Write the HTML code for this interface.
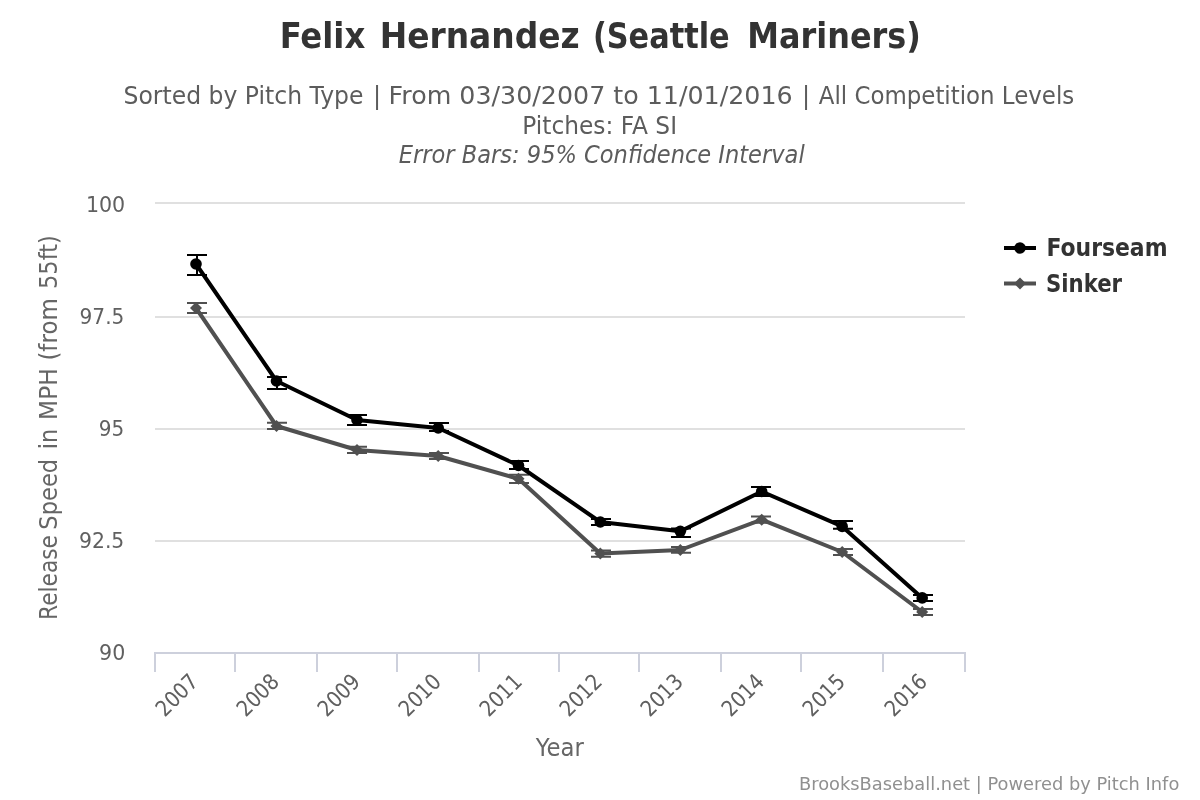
<!DOCTYPE html>
<html><head><meta charset="utf-8"><title>Felix Hernandez (Seattle Mariners)</title>
<style>html,body{margin:0;padding:0;background:#fff;width:1200px;height:800px;overflow:hidden}svg{display:block;will-change:transform}</style></head><body>
<svg width="1200" height="800" viewBox="0 0 1200 800">
<rect x="0" y="0" width="1200" height="800" fill="#ffffff"/>
<text x="279.7" y="48" font-family="'DejaVu Sans Condensed', 'DejaVu Sans', sans-serif" font-weight="bold" font-size="36" fill="#333333" textLength="85.58" lengthAdjust="spacingAndGlyphs">Felix</text>
<text x="379.67" y="48" font-family="'DejaVu Sans Condensed', 'DejaVu Sans', sans-serif" font-weight="bold" font-size="36" fill="#333333" textLength="199.99" lengthAdjust="spacingAndGlyphs">Hernandez</text>
<text x="592.93" y="48" font-family="'DejaVu Sans Condensed', 'DejaVu Sans', sans-serif" font-weight="bold" font-size="36" fill="#333333" textLength="136.68" lengthAdjust="spacingAndGlyphs">(Seattle</text>
<text x="747.33" y="48" font-family="'DejaVu Sans Condensed', 'DejaVu Sans', sans-serif" font-weight="bold" font-size="36" fill="#333333" textLength="173.44" lengthAdjust="spacingAndGlyphs">Mariners)</text>
<text x="123.52" y="104" font-family="'DejaVu Sans', sans-serif" font-size="24" fill="#5c5c5c" textLength="239.98" lengthAdjust="spacingAndGlyphs">Sorted by Pitch Type</text>
<text x="388.64" y="104" font-family="'DejaVu Sans', sans-serif" font-size="24" fill="#5c5c5c" textLength="404" lengthAdjust="spacingAndGlyphs">From 03/30/2007 to 11/01/2016</text>
<text x="818.8" y="104" font-family="'DejaVu Sans', sans-serif" font-size="24" fill="#5c5c5c" textLength="255.43" lengthAdjust="spacingAndGlyphs">All Competition Levels</text>
<text x="522.31" y="134" font-family="'DejaVu Sans', sans-serif" font-size="24" fill="#5c5c5c" textLength="154.71" lengthAdjust="spacingAndGlyphs">Pitches: FA SI</text>
<text x="398.75" y="163" font-family="'DejaVu Sans', sans-serif" font-style="italic" font-size="24" fill="#5c5c5c" textLength="405.94" lengthAdjust="spacingAndGlyphs">Error Bars: 95% Confidence Interval</text>
<text x="85.93" y="212" font-family="'DejaVu Sans', sans-serif" font-size="22" fill="#606060" textLength="39.31" lengthAdjust="spacingAndGlyphs">100</text>
<text x="79.59" y="324" font-family="'DejaVu Sans', sans-serif" font-size="22" fill="#606060" textLength="44.72" lengthAdjust="spacingAndGlyphs">97.5</text>
<text x="98.84" y="436" font-family="'DejaVu Sans', sans-serif" font-size="22" fill="#606060" textLength="25.47" lengthAdjust="spacingAndGlyphs">95</text>
<text x="78.97" y="547.75" font-family="'DejaVu Sans', sans-serif" font-size="22" fill="#606060" textLength="45.35" lengthAdjust="spacingAndGlyphs">92.5</text>
<text x="99.07" y="659.75" font-family="'DejaVu Sans', sans-serif" font-size="22" fill="#606060" textLength="26.17" lengthAdjust="spacingAndGlyphs">90</text>
<text x="535.65" y="756" font-family="'DejaVu Sans', sans-serif" font-size="24" fill="#666666" textLength="48.22" lengthAdjust="spacingAndGlyphs">Year</text>
<text x="1046.48" y="256" font-family="'DejaVu Sans Condensed', 'DejaVu Sans', sans-serif" font-weight="bold" font-size="24" fill="#333333" textLength="121.04" lengthAdjust="spacingAndGlyphs">Fourseam</text>
<text x="1046.02" y="291.5" font-family="'DejaVu Sans Condensed', 'DejaVu Sans', sans-serif" font-weight="bold" font-size="24" fill="#333333" textLength="76.04" lengthAdjust="spacingAndGlyphs">Sinker</text>
<text x="799.01" y="789.6" font-family="'DejaVu Sans', sans-serif" font-size="18" fill="#909090" textLength="380.3" lengthAdjust="spacingAndGlyphs">BrooksBaseball.net | Powered by Pitch Info</text>
<text x="377.1" y="104" text-anchor="middle" font-family="'DejaVu Sans', sans-serif" font-size="24" fill="#5c5c5c">|</text>
<text x="806" y="104" text-anchor="middle" font-family="'DejaVu Sans', sans-serif" font-size="24" fill="#5c5c5c">|</text>
<text transform="translate(57,0) rotate(-90)" x="-619.91" y="0" font-family="'DejaVu Sans', sans-serif" font-size="24" fill="#666666" textLength="84.8" lengthAdjust="spacingAndGlyphs">Release</text>
<text transform="translate(57,0) rotate(-90)" x="-529.64" y="0" font-family="'DejaVu Sans', sans-serif" font-size="24" fill="#666666" textLength="70.7" lengthAdjust="spacingAndGlyphs">Speed</text>
<text transform="translate(57,0) rotate(-90)" x="-449.37" y="0" font-family="'DejaVu Sans', sans-serif" font-size="24" fill="#666666" textLength="20.51" lengthAdjust="spacingAndGlyphs">in</text>
<text transform="translate(57,0) rotate(-90)" x="-419.94" y="0" font-family="'DejaVu Sans', sans-serif" font-size="24" fill="#666666" textLength="51.63" lengthAdjust="spacingAndGlyphs">MPH</text>
<text transform="translate(57,0) rotate(-90)" x="-360.61" y="0" font-family="'DejaVu Sans', sans-serif" font-size="24" fill="#666666" textLength="62.43" lengthAdjust="spacingAndGlyphs">(from</text>
<text transform="translate(57,0) rotate(-90)" x="-288.94" y="0" font-family="'DejaVu Sans', sans-serif" font-size="24" fill="#666666" textLength="53.71" lengthAdjust="spacingAndGlyphs">55ft)</text>
<rect x="155" y="202" width="810" height="2" fill="#e0e0e0"/>
<rect x="155" y="316" width="810" height="2" fill="#e0e0e0"/>
<rect x="155" y="428" width="810" height="2" fill="#e0e0e0"/>
<rect x="155" y="540" width="810" height="2" fill="#e0e0e0"/>
<rect x="154" y="652" width="812" height="2" fill="#cdd0dc"/>
<rect x="154" y="652" width="2" height="20" fill="#cdd0dc"/>
<rect x="234" y="652" width="2" height="20" fill="#cdd0dc"/>
<rect x="316" y="652" width="2" height="20" fill="#cdd0dc"/>
<rect x="396" y="652" width="2" height="20" fill="#cdd0dc"/>
<rect x="478" y="652" width="2" height="20" fill="#cdd0dc"/>
<rect x="558" y="652" width="2" height="20" fill="#cdd0dc"/>
<rect x="638" y="652" width="2" height="20" fill="#cdd0dc"/>
<rect x="720" y="652" width="2" height="20" fill="#cdd0dc"/>
<rect x="800" y="652" width="2" height="20" fill="#cdd0dc"/>
<rect x="882" y="652" width="2" height="20" fill="#cdd0dc"/>
<rect x="964" y="652" width="2" height="20" fill="#cdd0dc"/>
<text transform="translate(199.5,683) rotate(-45)" x="0" y="0" text-anchor="end" font-family="'DejaVu Sans', sans-serif" font-size="22" fill="#606060" textLength="49.24" lengthAdjust="spacingAndGlyphs">2007</text>
<text transform="translate(280.5,683) rotate(-45)" x="0" y="0" text-anchor="end" font-family="'DejaVu Sans', sans-serif" font-size="22" fill="#606060" textLength="49.24" lengthAdjust="spacingAndGlyphs">2008</text>
<text transform="translate(361.5,683) rotate(-45)" x="0" y="0" text-anchor="end" font-family="'DejaVu Sans', sans-serif" font-size="22" fill="#606060" textLength="49.24" lengthAdjust="spacingAndGlyphs">2009</text>
<text transform="translate(442.5,683) rotate(-45)" x="0" y="0" text-anchor="end" font-family="'DejaVu Sans', sans-serif" font-size="22" fill="#606060" textLength="49.24" lengthAdjust="spacingAndGlyphs">2010</text>
<text transform="translate(523.5,683) rotate(-45)" x="0" y="0" text-anchor="end" font-family="'DejaVu Sans', sans-serif" font-size="22" fill="#606060" textLength="49.24" lengthAdjust="spacingAndGlyphs">2011</text>
<text transform="translate(603.5,683) rotate(-45)" x="0" y="0" text-anchor="end" font-family="'DejaVu Sans', sans-serif" font-size="22" fill="#606060" textLength="49.24" lengthAdjust="spacingAndGlyphs">2012</text>
<text transform="translate(684.5,683) rotate(-45)" x="0" y="0" text-anchor="end" font-family="'DejaVu Sans', sans-serif" font-size="22" fill="#606060" textLength="49.24" lengthAdjust="spacingAndGlyphs">2013</text>
<text transform="translate(765.5,683) rotate(-45)" x="0" y="0" text-anchor="end" font-family="'DejaVu Sans', sans-serif" font-size="22" fill="#606060" textLength="49.24" lengthAdjust="spacingAndGlyphs">2014</text>
<text transform="translate(846.5,683) rotate(-45)" x="0" y="0" text-anchor="end" font-family="'DejaVu Sans', sans-serif" font-size="22" fill="#606060" textLength="49.24" lengthAdjust="spacingAndGlyphs">2015</text>
<text transform="translate(928.5,683) rotate(-45)" x="0" y="0" text-anchor="end" font-family="'DejaVu Sans', sans-serif" font-size="22" fill="#606060" textLength="49.24" lengthAdjust="spacingAndGlyphs">2016</text>
<polyline points="196,308 276.5,426 357,450 438.2,456 518.5,478.8 600.3,553.5 680.3,550 761.7,519.7 842.2,552 922.2,612" fill="none" stroke="#505050" stroke-width="4" stroke-linejoin="round" stroke-linecap="round"/>
<path d="M187 303H207M197 303V313M187 313H207" stroke="#505050" stroke-width="2" fill="none"/>
<path d="M267 422.7H287M277 422.7V429M267 429H287" stroke="#505050" stroke-width="2" fill="none"/>
<path d="M347 446.8H367M357 446.8V452.9M347 452.9H367" stroke="#505050" stroke-width="2" fill="none"/>
<path d="M429 452.9H449M439 452.9V459.1M429 459.1H449" stroke="#505050" stroke-width="2" fill="none"/>
<path d="M509 474.7H529M519 474.7V482.9M509 482.9H529" stroke="#505050" stroke-width="2" fill="none"/>
<path d="M591 550.6H611M601 550.6V556.8M591 556.8H611" stroke="#505050" stroke-width="2" fill="none"/>
<path d="M671 547H691M681 547V552.8M671 552.8H691" stroke="#505050" stroke-width="2" fill="none"/>
<path d="M751 516.6H771M761 516.6V522.7M751 522.7H771" stroke="#505050" stroke-width="2" fill="none"/>
<path d="M833 549H853M843 549V554.9M833 554.9H853" stroke="#505050" stroke-width="2" fill="none"/>
<path d="M913 609H933M923 609V615M913 615H933" stroke="#505050" stroke-width="2" fill="none"/>
<path d="M196 302L202 308L196 314L190 308Z" fill="#505050"/>
<path d="M276.5 420L282.5 426L276.5 432L270.5 426Z" fill="#505050"/>
<path d="M357 444L363 450L357 456L351 450Z" fill="#505050"/>
<path d="M438.2 450L444.2 456L438.2 462L432.2 456Z" fill="#505050"/>
<path d="M518.5 472.8L524.5 478.8L518.5 484.8L512.5 478.8Z" fill="#505050"/>
<path d="M600.3 547.5L606.3 553.5L600.3 559.5L594.3 553.5Z" fill="#505050"/>
<path d="M680.3 544L686.3 550L680.3 556L674.3 550Z" fill="#505050"/>
<path d="M761.7 513.7L767.7 519.7L761.7 525.7L755.7 519.7Z" fill="#505050"/>
<path d="M842.2 546L848.2 552L842.2 558L836.2 552Z" fill="#505050"/>
<path d="M922.2 606L928.2 612L922.2 618L916.2 612Z" fill="#505050"/>
<polyline points="196,264 276.5,381 357,420 438.2,428 518.5,465.5 600.3,522 680.3,531.3 761.7,491.5 842.2,526.4 922.2,597.9" fill="none" stroke="#000000" stroke-width="4" stroke-linejoin="round" stroke-linecap="round"/>
<path d="M187 255H207M197 255V275M187 275H207" stroke="#000000" stroke-width="2" fill="none"/>
<path d="M267 377H287M277 377V389M267 389H287" stroke="#000000" stroke-width="2" fill="none"/>
<path d="M347 415H367M357 415V425M347 425H367" stroke="#000000" stroke-width="2" fill="none"/>
<path d="M429 422.9H449M439 422.9V431M429 431H449" stroke="#000000" stroke-width="2" fill="none"/>
<path d="M509 460.9H529M519 460.9V469M509 469H529" stroke="#000000" stroke-width="2" fill="none"/>
<path d="M591 518.9H611M601 518.9V525.1M591 525.1H611" stroke="#000000" stroke-width="2" fill="none"/>
<path d="M671 528.6H691M681 528.6V537M671 537H691" stroke="#000000" stroke-width="2" fill="none"/>
<path d="M751 487H771M761 487V496M751 496H771" stroke="#000000" stroke-width="2" fill="none"/>
<path d="M833 520.9H853M843 520.9V528.75M833 528.75H853" stroke="#000000" stroke-width="2" fill="none"/>
<path d="M913 595H933M923 595V601M913 601H933" stroke="#000000" stroke-width="2" fill="none"/>
<circle cx="196" cy="264" r="5.8" fill="#000000"/>
<circle cx="276.5" cy="381" r="5.8" fill="#000000"/>
<circle cx="357" cy="420" r="5.8" fill="#000000"/>
<circle cx="438.2" cy="428" r="5.8" fill="#000000"/>
<circle cx="518.5" cy="465.5" r="5.8" fill="#000000"/>
<circle cx="600.3" cy="522" r="5.8" fill="#000000"/>
<circle cx="680.3" cy="531.3" r="5.8" fill="#000000"/>
<circle cx="761.7" cy="491.5" r="5.8" fill="#000000"/>
<circle cx="842.2" cy="526.4" r="5.8" fill="#000000"/>
<circle cx="922.2" cy="597.9" r="5.8" fill="#000000"/>
<path d="M1004 248H1036" stroke="#000000" stroke-width="4"/>
<circle cx="1020" cy="248" r="5.8" fill="#000000"/>
<path d="M1004 283.5H1036" stroke="#505050" stroke-width="4"/>
<path d="M1020 277.5L1026 283.5L1020 289.5L1014 283.5Z" fill="#505050"/>
</svg>
</body></html>
